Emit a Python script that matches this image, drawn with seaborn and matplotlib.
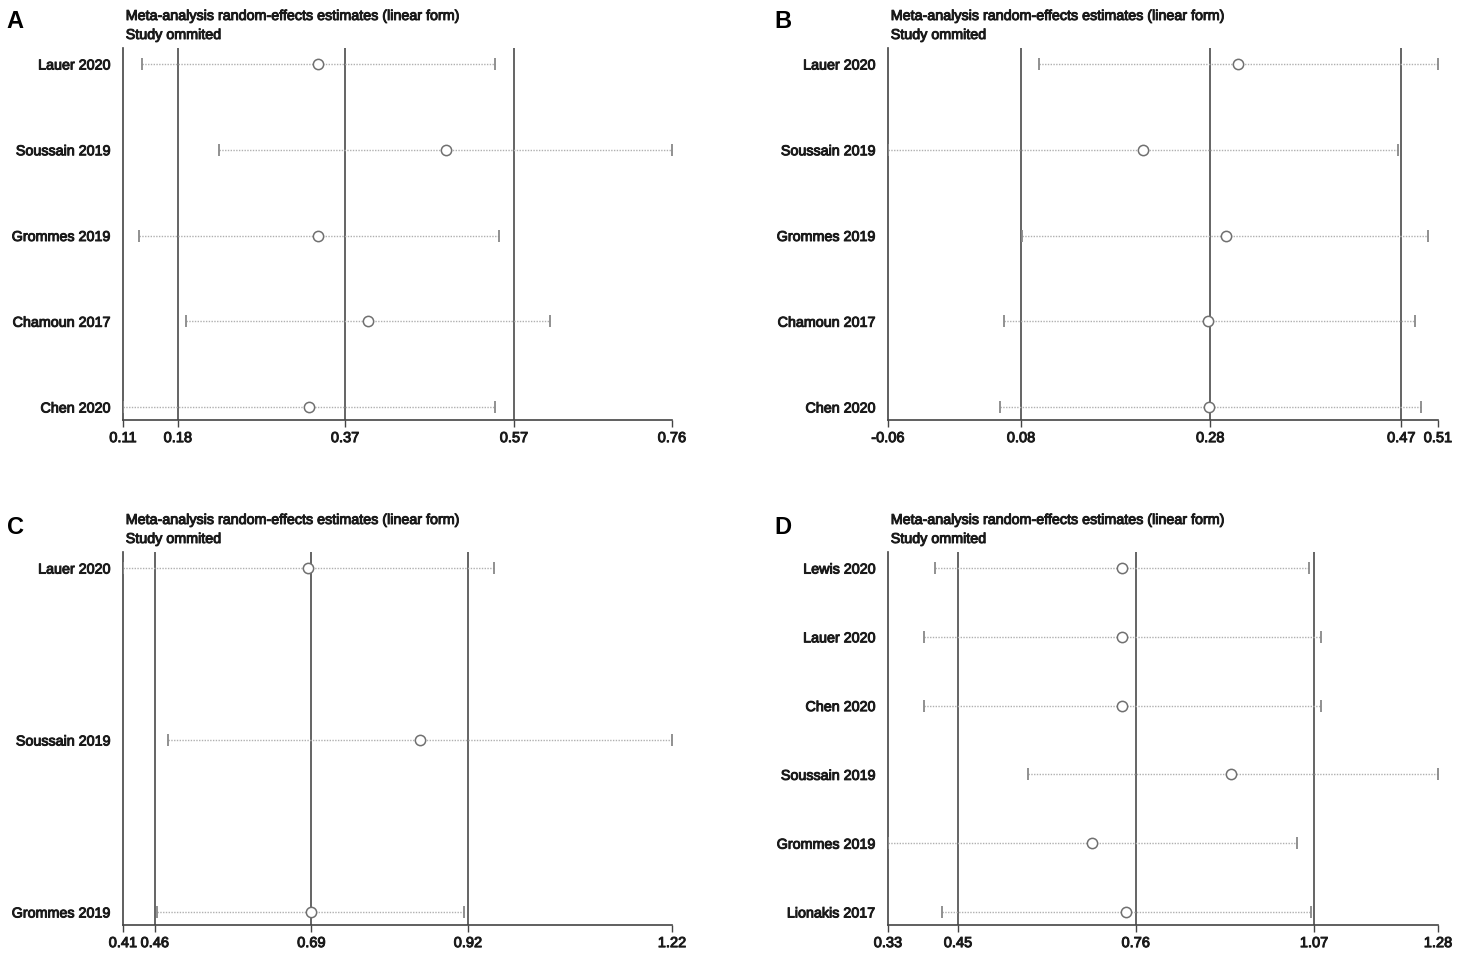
import matplotlib
matplotlib.use("Agg")
import matplotlib.pyplot as plt
import matplotlib.patheffects as pe
import seaborn as sns
import numpy as np
import pandas as pd

# ---------------- data ----------------
# Panel A
a_studies = ["Lauer 2020", "Soussain 2019", "Grommes 2019", "Chamoun 2017", "Chen 2020"]
a_est = [0.341, 0.492, 0.341, 0.400, 0.330]
a_lo = [0.132, 0.224, 0.129, 0.184, 0.110]
a_hi = [0.550, 0.760, 0.555, 0.616, 0.551]
a_overall = [0.175, 0.373, 0.573]
a_ticks = [0.11, 0.175, 0.373, 0.573, 0.76]
a_ticklabels = ["0.11", "0.18", "0.37", "0.57", "0.76"]

# Panel B
b_studies = ["Lauer 2020", "Soussain 2019", "Grommes 2019", "Chamoun 2017", "Chen 2020"]
b_est = [0.303, 0.204, 0.290, 0.272, 0.273]
b_lo = [0.097, -0.060, 0.079, 0.060, 0.056]
b_hi = [0.510, 0.469, 0.500, 0.486, 0.492]
b_overall = [0.078, 0.274, 0.472]
b_ticks = [-0.06, 0.078, 0.274, 0.472, 0.51]
b_ticklabels = ["-0.06", "0.08", "0.28", "0.47", "0.51"]

# Panel C
c_studies = ["Lauer 2020", "Soussain 2019", "Grommes 2019"]
c_est = [0.683, 0.848, 0.688]
c_lo = [0.410, 0.476, 0.460]
c_hi = [0.958, 1.220, 0.913]
c_overall = [0.457, 0.688, 0.919]
c_ticks = [0.41, 0.457, 0.688, 0.919, 1.22]
c_ticklabels = ["0.41", "0.46", "0.69", "0.92", "1.22"]

# Panel D
d_studies = ["Lewis 2020", "Lauer 2020", "Chen 2020", "Soussain 2019", "Grommes 2019", "Lionakis 2017"]
d_est = [0.734, 0.734, 0.734, 0.923, 0.683, 0.741]
d_lo = [0.411, 0.392, 0.392, 0.571, 0.330, 0.423]
d_hi = [1.058, 1.078, 1.078, 1.280, 1.037, 1.061]
d_overall = [0.451, 0.758, 1.066]
d_ticks = [0.33, 0.451, 0.758, 1.066, 1.28]
d_ticklabels = ["0.33", "0.45", "0.76", "1.07", "1.28"]

panel_letters = ["A", "B", "C", "D"]
title1 = "Meta-analysis random-effects estimates (linear form)"
title2 = "Study ommited"

# ---------------- style ----------------
sns.set_theme(style="white")
plt.rcParams["font.family"] = ["Liberation Sans", "DejaVu Sans"]
fs_label, fs_tick, fs_title = 10.3, 10.5, 10.3
heavy = [pe.withStroke(linewidth=0.7, foreground="#1a1a1a")]

fig = plt.figure(figsize=(14.57, 9.60), dpi=100)

W = 1457.0
H = 960.0

def rect(l, r, t, b):
    return [l / W, 1 - b / H, (r - l) / W, (b - t) / H]

panels = [
    (a_studies, a_est, a_lo, a_hi, a_overall, a_ticks, a_ticklabels, rect(123, 672, 48, 420)),
    (b_studies, b_est, b_lo, b_hi, b_overall, b_ticks, b_ticklabels, rect(888, 1438, 48, 420)),
    (c_studies, c_est, c_lo, c_hi, c_overall, c_ticks, c_ticklabels, rect(123, 672, 552, 925)),
    (d_studies, d_est, d_lo, d_hi, d_overall, d_ticks, d_ticklabels, rect(888, 1438, 552, 925)),
]

for letter, (studies, est, lo, hi, overall, ticks, ticklabels, pos) in zip(panel_letters, panels):
    ax = fig.add_axes(pos)
    n = len(studies)
    ypos = np.arange(n)
    df = pd.DataFrame({"study": studies, "est": est, "lo": lo, "hi": hi, "y": ypos})

    for v in overall:
        ax.axvline(v, color="#4a4a4a", lw=1.2, zorder=1)

    ax.hlines(df["y"], df["lo"], df["hi"], colors="#b0b0b0", linestyles=(0, (1, 1)), lw=1.0, zorder=2)
    ax.plot(df["lo"], df["y"], linestyle="none", marker="|", markersize=9, mew=1.3, color="#888888", zorder=3)
    ax.plot(df["hi"], df["y"], linestyle="none", marker="|", markersize=9, mew=1.3, color="#888888", zorder=3)
    sns.scatterplot(data=df, x="est", y="y", ax=ax, marker="o", s=55,
                    facecolor="white", edgecolor="#707070", linewidth=1.1, zorder=4, legend=False)

    spacing = 343.0 / (n - 1)
    top_pad = 16.0 / spacing
    bot_pad = 13.0 / spacing
    ax.set_ylim(n - 1 + bot_pad, -top_pad)
    ax.set_xlim(ticks[0], ticks[-1])

    ax.set_yticks(ypos)
    ylabs = ax.set_yticklabels(studies, fontsize=fs_label, color="#1a1a1a")
    ax.set_xticks(ticks)
    xlabs = ax.set_xticklabels(ticklabels, fontsize=fs_tick, color="#1a1a1a")
    for t in list(ylabs) + list(xlabs):
        t.set_path_effects(heavy)
    ax.set_xlabel("")
    ax.set_ylabel("")

    ax.tick_params(axis="y", length=0, pad=9)
    ax.tick_params(axis="x", length=5, width=1, direction="out", color="#444444", pad=3, bottom=True)

    for s in ["top", "right"]:
        ax.spines[s].set_visible(False)
    for s in ["left", "bottom"]:
        ax.spines[s].set_color("#444444")
        ax.spines[s].set_linewidth(1.2)

    ax.text(0.005, 1.0 + 32.0 / (pos[3] * H), title1, transform=ax.transAxes,
            fontsize=fs_title, ha="left", va="center", color="#1a1a1a", path_effects=heavy)
    ax.text(0.005, 1.0 + 13.0 / (pos[3] * H), title2, transform=ax.transAxes,
            fontsize=fs_title, ha="left", va="center", color="#1a1a1a", path_effects=heavy)

    lx = 15.0 if letter in ("A", "C") else 783.0
    ly = 22.0 if letter in ("A", "B") else 527.0
    fig.text(lx / W, 1 - ly / H, letter, fontsize=17, fontweight="bold",
             ha="center", va="center", color="black")

fig.savefig("out.png", dpi=100, facecolor="white")
